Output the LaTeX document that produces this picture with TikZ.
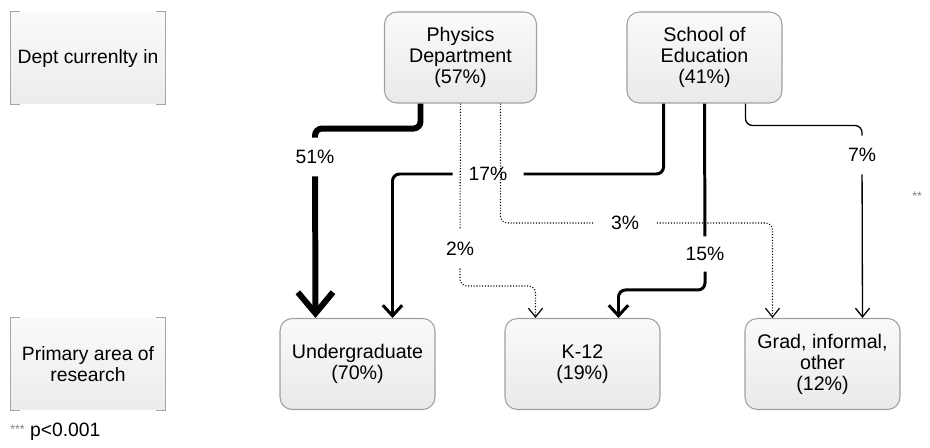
\documentclass[tikz,border=0pt]{standalone}
\usepackage{fontspec}
\setmainfont{Liberation Sans}
\usetikzlibrary{calc,arrows.meta}

\tikzset{
  catbox/.style={rectangle, rounded corners=7pt, draw=gray!75, line width=0.6pt,
    top color=gray!4, bottom color=gray!17, minimum width=3.04cm, minimum height=1.82cm,
    align=center, inner sep=2pt, font=\fontsize{11.2}{12}\selectfont},
  sidebox/.style={rectangle, top color=gray!4, bottom color=gray!15,
    minimum width=3.1cm, minimum height=1.84cm, align=center, inner sep=2pt,
    font=\fontsize{11}{12}\selectfont},
  bracket/.style={draw=gray!70, line width=0.7pt},
  pct/.style={font=\fontsize{11}{12}\selectfont, inner xsep=3pt, inner ysep=7pt},
  flow/.style={rounded corners=4pt},
  heavy/.style={flow, line width=3.4pt, -{Straight Barb[length=12pt,width=20pt]}},
  medium/.style={flow, line width=1.7pt, -{Straight Barb[length=6pt,width=11pt]}},
  light/.style={flow, line width=0.75pt, -{Straight Barb[length=5pt,width=8pt]}},
  faint/.style={flow, line width=0.6pt, densely dotted, -{Straight Barb[length=5pt,width=8pt,line width=0.7pt]}}
}

\begin{document}
\begin{tikzpicture}[x=0.02cm, y=-0.02cm]
\useasboundingbox (0,0) rectangle (930,447);

% row labels
\node[sidebox] (deptlab) at (88,58) {Dept currenlty in};
\node[sidebox] (arealab) at (88,364) {Primary area of\\research};
\foreach \b in {deptlab, arealab} {
  \draw[bracket] ($(\b.north west)+(10,0)$) -- (\b.north west) -- (\b.south west) -- ++(10,0);
  \draw[bracket] ($(\b.north east)+(-10,0)$) -- (\b.north east) -- (\b.south east) -- ++(-10,0);
}

% departments
\node[catbox] (phys) at (460.5,57.5) {Physics\\Department\\(57\%)};
\node[catbox, minimum width=3.1cm] (educ) at (704.5,57.5) {School of\\Education\\(41\%)};

% research areas
\node[catbox, minimum width=3.1cm] (under) at (357.5,364) {Undergraduate\\(70\%)};
\node[catbox, minimum width=3.1cm] (k12) at (582.5,364) {K-12\\(19\%)};
\node[catbox, minimum width=3.1cm] (grad) at (822.5,364) {Grad, informal,\\other\\(12\%)};

% percentages
\node[pct] (l51) at (315,157) {51\%};
\node[pct, inner xsep=9pt] (l17) at (488,174) {17\%};
\node[pct] (l2) at (460,249) {2\%};
\node[pct, inner xsep=10pt] (l3) at (625,223) {3\%};
\node[pct, inner ysep=6pt] (l15) at (705,254) {15\%};
\node[pct] (l7) at (862,155) {7\%};

% flows
\draw[heavy] ($(phys.south)+(-40,0)$) -- ++(0,25) -| (l51) -- ($(under.north)+(-42,0)$);
\draw[medium] ($(educ.south)+(-41,0)$) |- (l17) -| ($(under.north)+(35,0)$);
\draw[faint] (phys.south) -- (l2) |- ($(k12.north)+(-47,-32)$) -- ($(k12.north)+(-47,0)$);
\draw[faint] ($(phys.south)+(40,0)$) |- (l3) -| ($(grad.north)+(-50,0)$);
\draw[medium] (educ.south) -- (l15) |- ($(k12.north)+(36,-28)$) -- ($(k12.north)+(36,0)$);
\draw[light] ($(educ.south)+(41,0)$) -- ++(0,22) -| (l7) -- ($(grad.north)+(40,0)$);

% significance notes
\node[anchor=west, inner sep=0pt, text=gray, font=\fontsize{7}{8}\selectfont] (sig) at (912,196) {**};
\node[anchor=west, inner sep=0pt, font=\fontsize{11}{12}\selectfont] (note) at (10,432)
  {\raisebox{2pt}{\textcolor{gray}{\fontsize{7}{8}\selectfont ***}} p<0.001};

\end{tikzpicture}
\end{document}
